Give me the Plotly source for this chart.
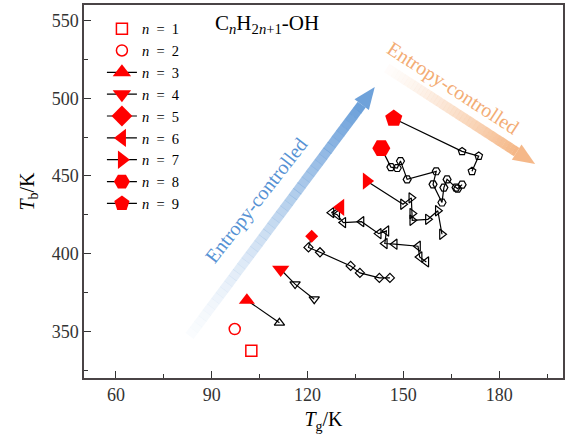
import math
import plotly.graph_objects as go

# ---------------- data ----------------
n_values = [1, 2, 3, 4, 5, 6, 7, 8, 9]
red_symbols = ["square-open", "circle-open", "triangle-up", "triangle-down", "diamond",
               "triangle-left", "triangle-right", "hexagon2", "pentagon"]
red_sizes = [11, 11, 14, 15, 10, 15, 15, 18, 18]
black_sizes = [8, 8, 9, 9, 7, 9, 9, 8, 8]
legend_sizes = [11, 11, 16, 16, 16, 16, 16, 16, 16]

# first (normal) alcohol of each n : red marker
red_tg = [102.4, 97.2, 101.0, 111.6, 121.3, 130.3, 138.5, 143.1, 147.0]
red_tb = [337.5, 351.5, 370.1, 389.8, 411.2, 429.8, 446.7, 467.9, 487.0]

# other isomers : black open markers
iso3_tg = [111.2]
iso3_tb = [355.5]
iso4_tg = [116.1, 122.1]
iso4_tb = [380.4, 370.7]
iso5_tg = [120.3, 123.9, 133.5, 136.4, 142.5, 145.8]
iso5_tb = [404.0, 400.9, 392.1, 387.6, 384.4, 384.4]
iso6_tg = [127.5, 129.3, 131.2, 136.9, 142.3, 144.7, 144.2, 147.3, 154.6, 155.1, 157.2]
iso6_tb = [426.4, 425.1, 420.0, 420.6, 412.9, 414.6, 406.5, 406.1, 404.8, 397.9, 394.7]
iso7_tg = [149.9, 152.5, 152.8, 152.8, 157.7, 160.8, 162.1]
iso7_tb = [431.8, 435.9, 425.8, 421.5, 422.1, 427.6, 412.5]
iso8_tg = [146.1, 148.1, 149.1, 151.2, 160.3, 159.3, 162.1, 162.7, 163.7, 166.5, 167.0, 168.4]
iso8_tb = [455.7, 455.1, 459.6, 447.8, 453.0, 444.6, 432.9, 442.5, 447.8, 442.5, 441.8, 444.4]
iso9_tg = [168.4, 173.6, 171.5]
iso9_tb = [465.8, 462.8, 453.0]

iso_tg = {3: iso3_tg, 4: iso4_tg, 5: iso5_tg, 6: iso6_tg, 7: iso7_tg, 8: iso8_tg, 9: iso9_tg}
iso_tb = {3: iso3_tb, 4: iso4_tb, 5: iso5_tb, 6: iso6_tb, 7: iso7_tb, 8: iso8_tb, 9: iso9_tb}

x_ticks = [60, 90, 120, 150, 180]
y_ticks = [350, 400, 450, 500, 550]
X_RANGE = [50, 200]
Y_RANGE = [320, 560]

# ---------------- layout geometry ----------------
W, H = 568, 441
ML, MR, MT, MB = 84, 3, 5, 63
PW, PH = W - ML - MR, H - MT - MB
FONT = "Liberation Serif"
RED = "#ff0000"
BLUE = (86, 146, 212)
ORANGE = (243, 172, 116)


def px2x(px):
    return X_RANGE[0] + (px - ML) / PW * (X_RANGE[1] - X_RANGE[0])


def py2y(py):
    return Y_RANGE[1] - (py - MT) / PH * (Y_RANGE[1] - Y_RANGE[0])


fig = go.Figure()

for i, n in enumerate(n_values):
    sym = red_symbols[i]
    label = f"<i>n</i>\u2002=\u2002{n}"
    if n in iso_tg:
        bx, by = iso_tg[n], iso_tb[n]
        fig.add_trace(go.Scatter(x=[red_tg[i]] + bx, y=[red_tb[i]] + by, mode="lines",
                                 line=dict(color="black", width=1.2),
                                 showlegend=False, hoverinfo="skip"))
        fig.add_trace(go.Scatter(x=bx, y=by, mode="markers",
                                 marker=dict(symbol=sym + "-open", size=black_sizes[i], color="black",
                                             line=dict(width=1.2, color="black")),
                                 showlegend=False))
        fig.add_trace(go.Scatter(x=[red_tg[i]], y=[red_tb[i]], mode="markers",
                                 showlegend=False,
                                 marker=dict(symbol=sym, size=red_sizes[i], color=RED,
                                             line=dict(width=0))))
        # legend entry (line + red symbol)
        fig.add_trace(go.Scatter(x=[None], y=[None], mode="lines+markers", name=label,
                                 line=dict(color="black", width=1.2),
                                 marker=dict(symbol=sym, size=legend_sizes[i], color=RED,
                                             line=dict(width=0))))
    else:
        fig.add_trace(go.Scatter(x=[red_tg[i]], y=[red_tb[i]], mode="markers",
                                 name=label,
                                 marker=dict(symbol=sym, size=red_sizes[i], color=RED,
                                             line=dict(width=1.5, color=RED))))

# ---------------- gradient arrows ----------------
shapes = []


def gradient_arrow(p0, p1, rgb, width=10, head_len=22, head_half=9, nseg=40, amax=0.85):
    x0, y0 = p0
    x1, y1 = p1
    L = math.hypot(x1 - x0, y1 - y0)
    ux, uy = (x1 - x0) / L, (y1 - y0) / L
    bxp, byp = x1 - ux * head_len, y1 - uy * head_len
    for k in range(nseg):
        t0 = k / nseg
        t1 = min((k + 1.05) / nseg, 1)
        a = 0.03 + amax * ((k + 0.5) / nseg) ** 1.4
        sx0, sy0 = x0 + (bxp - x0) * t0, y0 + (byp - y0) * t0
        sx1, sy1 = x0 + (bxp - x0) * t1, y0 + (byp - y0) * t1
        shapes.append(dict(type="line", xref="x", yref="y",
                           x0=px2x(sx0), y0=py2y(sy0), x1=px2x(sx1), y1=py2y(sy1),
                           line=dict(color=f"rgba({rgb[0]},{rgb[1]},{rgb[2]},{a:.3f})", width=width),
                           layer="below"))
    nx, ny = -uy, ux
    pts = [(x1, y1), (bxp + nx * head_half, byp + ny * head_half), (bxp - nx * head_half, byp - ny * head_half)]
    path = "M " + " L ".join(f"{px2x(a)},{py2y(b)}" for a, b in pts) + " Z"
    shapes.append(dict(type="path", xref="x", yref="y", path=path,
                       fillcolor=f"rgba({rgb[0]},{rgb[1]},{rgb[2]},{amax:.2f})", line=dict(width=0),
                       layer="below"))


gradient_arrow((190, 336), (376, 87), BLUE)
gradient_arrow((388, 68), (537, 164), ORANGE)

annotations = [
    dict(x=px2x(268), y=py2y(24), xref="x", yref="y", showarrow=False,
         text="C<sub><i>n</i></sub>H<sub>2<i>n</i>+1</sub>-OH",
         font=dict(family=FONT, size=21, color="black")),
    dict(x=px2x(257), y=py2y(200), xref="x", yref="y", showarrow=False, textangle=-52,
         text="Entropy-controlled",
         font=dict(family=FONT, size=20, color=f"rgb{BLUE}")),
    dict(x=px2x(455), y=py2y(88), xref="x", yref="y", showarrow=False, textangle=33,
         text="Entropy-controlled",
         font=dict(family=FONT, size=20, color=f"rgb{ORANGE}")),
]

axis_common = dict(showgrid=False, zeroline=False, showline=True, linecolor="#4a4446",
                   linewidth=1.5, mirror=True, ticks="inside", ticklen=7, tickwidth=1.2,
                   tickcolor="#333", tickfont=dict(family=FONT, size=18, color="#333"))

fig.update_layout(
    width=W, height=H,
    margin=dict(l=ML, r=MR, t=MT, b=MB),
    paper_bgcolor="white", plot_bgcolor="white",
    font=dict(family=FONT, color="black"),
    shapes=shapes, annotations=annotations,
    xaxis=dict(range=X_RANGE, tickvals=x_ticks,
               minor=dict(dtick=15, tick0=45, ticks="inside", ticklen=4, tickcolor="#333"),
               title=dict(text="<i>T</i><sub>g</sub>/K", font=dict(family=FONT, size=20), standoff=8),
               **axis_common),
    yaxis=dict(range=Y_RANGE, tickvals=y_ticks,
               minor=dict(dtick=25, tick0=325, ticks="inside", ticklen=4, tickcolor="#333"),
               title=dict(text="<i>T</i><sub>b</sub>/K", font=dict(family=FONT, size=20), standoff=12),
               **axis_common),
    legend=dict(x=(102 - ML) / PW, y=(378.3 - 13) / PH, xanchor="left", yanchor="top",
                bgcolor="rgba(0,0,0,0)", borderwidth=0,
                font=dict(family=FONT, size=14.5, color="black")),
    showlegend=True,
)

fig.write_html("out.html")
